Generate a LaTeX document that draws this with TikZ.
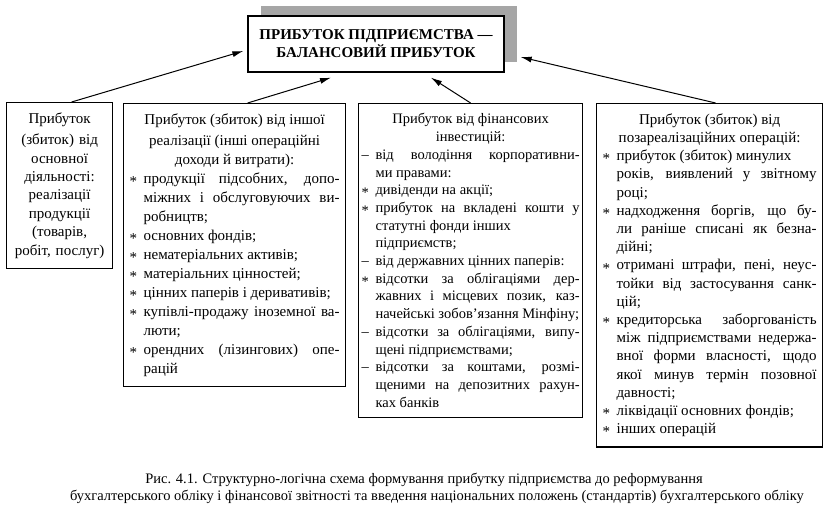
\documentclass[tikz,border=0pt]{standalone}
\usepackage{fontspec}
\setmainfont{Liberation Serif}
\usepackage{tikz}
\usetikzlibrary{arrows.meta, shadows}
\setlength{\parindent}{0pt}
\tolerance=10000
\hyphenpenalty=10000
\exhyphenpenalty=10000
\newcommand{\zstar}{\raisebox{-0.45ex}{*}}
\newcommand{\zitem}[1]{\par\hangindent=14pt\hangafter=1\noindent\makebox[14pt][l]{#1}\ignorespaces}

\begin{document}
\begin{tikzpicture}[x=1pt,y=-1pt]
\tikzstyle{mainbox} = [draw=black, line width=1.3pt, fill=white, font=\bfseries\fontsize{15}{18}\selectfont, align=center, minimum width=256pt, minimum height=56pt, drop shadow={shadow xshift=13pt, shadow yshift=10pt, fill=black!35, opacity=1}]
\tikzstyle{infobox} = [draw=black, line width=1.2pt, anchor=north west, inner xsep=6pt, inner ysep=10pt, align=justify]
\tikzstyle{link} = [-{Latex[length=11pt,width=6pt]}, line width=1pt]

\useasboundingbox (0,0) rectangle (826,517);

\node[mainbox] (top) at (376,44) {ПРИБУТОК ПІДПРИЄМСТВА —\\БАЛАНСОВИЙ ПРИБУТОК};

\node[infobox, font=\fontsize{15}{18.4}\selectfont, text width=94pt, align=center] (b1) at (6,102) {\vspace*{3pt}Прибуток\\(збиток) від\\основної\\діяльності:\\реалізації\\продукції\\(товарів,\\робіт, послуг)\par};

\node[infobox, font=\fontsize{15}{19}\selectfont, text width=210pt] (b2) at (123,103) {\vspace*{2pt}{\centering Прибуток (збиток) від іншої\\реалізації (інші операційні\\доходи й витрати):\par}
\zitem{\zstar} продукції підсобних, допо-\linebreak міжних і обслуговуючих ви-\linebreak робництв;
\zitem{\zstar} основних фондів;
\zitem{\zstar} нематеріальних активів;
\zitem{\zstar} матеріальних цінностей;
\zitem{\zstar} цінних паперів і деривативів;
\zitem{\zstar} купівлі-продажу іноземної ва-\linebreak люти;
\zitem{\zstar} орендних (лізингових) опе-\linebreak рацій\par};

\node[infobox, font=\fontsize{14.5}{17.7}\selectfont, inner xsep=3pt, text width=218pt] (b3) at (358,103) {{\centering Прибуток від фінансових\\інвестицій:\par}
\zitem{–} від володіння корпоративни-\linebreak ми правами:
\zitem{\zstar} дивіденди на акції;
\zitem{\zstar} прибуток на вкладені кошти у\linebreak статутні фонди інших\newline підприємств;
\zitem{–} від державних цінних паперів:
\zitem{\zstar} відсотки за облігаціями дер-\linebreak жавних і місцевих позик, каз-\linebreak начейські зобов’язання Мінфіну;
\zitem{–} відсотки за облігаціями, випу-\linebreak щені підприємствами;
\zitem{–} відсотки за коштами, розмі-\linebreak щеними на депозитних рахун-\linebreak ках банків\par};

\node[infobox, font=\fontsize{15}{18.2}\selectfont, text width=214pt] (b4) at (596,103) {{\centering Прибуток (збиток) від\\позареалізаційних операцій:\par}
\zitem{\zstar} прибуток (збиток) минулих\newline років, виявлений у звітному\linebreak році;
\zitem{\zstar} надходження боргів, що бу-\linebreak ли раніше списані як безна-\linebreak дійні;
\zitem{\zstar} отримані штрафи, пені, неус-\linebreak тойки від застосування санк-\linebreak цій;
\zitem{\zstar} кредиторська заборгованість\linebreak між підприємствами недержа-\linebreak вної форми власності, щодо\linebreak якої минув термін позовної\linebreak давності;
\zitem{\zstar} ліквідації основних фондів;
\zitem{\zstar} інших операцій\par};

% arrows to the main box
\draw[link] ([xshift=12pt]b1.north) -- ([xshift=-4pt,yshift=-7pt]top.west);
\draw[link] ([xshift=13pt]b2.north) -- ([xshift=-45pt,yshift=-5pt]top.south);
\draw[link] (b3.north) -- ([xshift=55pt,yshift=-5pt]top.south);
\draw[link] ([xshift=6pt]b4.north) -- ([xshift=16pt,yshift=-13pt]top.east);

% caption
\node[font=\fontsize{14.5}{17}\selectfont] (cap1) at (424,480) {Рис. 4.1. Структурно-логічна схема формування прибутку підприємства до реформування};
\node[font=\fontsize{14.5}{17}\selectfont] (cap2) at (437,497) {бухгалтерського обліку і фінансової звітності та введення національних положень (стандартів) бухгалтерського обліку};
\end{tikzpicture}
\end{document}
